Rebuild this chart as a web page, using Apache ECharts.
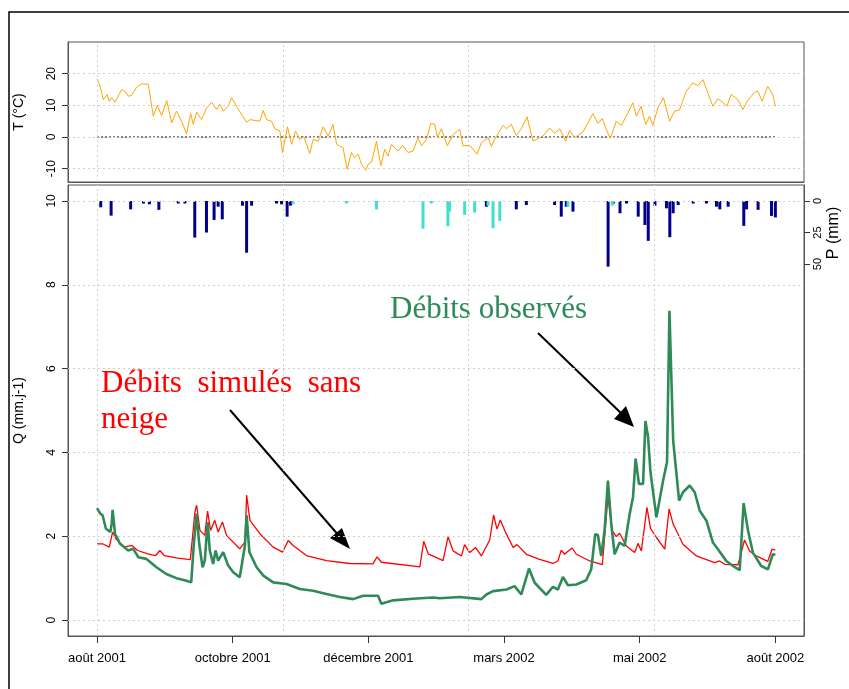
<!DOCTYPE html>
<html><head><meta charset="utf-8">
<script src="https://cdn.jsdelivr.net/npm/echarts@6/dist/echarts.min.js"></script>
<style>html,body{margin:0;padding:0;background:#fff}#main{width:849px;height:689px}</style>
</head><body><div id="main"></div>
<script>
// days since 1 Aug 2001
let tickDays = [0, 73, 146, 219, 292, 365];
let tickLabels = ['août 2001', 'octobre 2001', 'décembre 2001', 'mars 2002', 'mai 2002', 'août 2002'];

let temperature = [
  [0,18.3],[0.7,17.6],[2,15.2],[3.4,11.8],[5.5,13.4],[6.6,11.3],[7.9,12.4],[9.7,11],[13.3,15],[15.1,14.4],
  [16.8,12.9],[18.6,13.1],[21.3,15.7],[24,16.8],[27.6,16.6],[30.3,6.6],[32.4,10],[34.8,6.8],[37.5,11.5],[40.2,4.5],
  [42.8,8.2],[45.5,5],[48.2,1],[50.4,7.4],[51.8,4],[53.6,7.9],[56.3,5.5],[59,9.2],[61.7,11],[64.4,8.7],
  [66.1,10.3],[67.9,8.2],[70.6,9.7],[72.4,12.4],[75.1,9.7],[77.8,7.1],[80.5,4.7],[82.3,5.5],[87.6,5],[89.4,8.4],
  [91.2,5.5],[93.9,5],[95.7,2.6],[98.4,1.9],[99.8,-4.9],[102.5,3.2],[104.7,-2.3],[106.8,1.9],[109.1,-0.7],[111.3,0.1],
  [114.5,-5.2],[116.3,-0.7],[119,-1.3],[121.7,3.2],[124.4,0.3],[127,4],[128.9,-2.3],[132.4,-3.4],[134.6,-10.2],[136.9,-4.9],
  [138.7,-6.5],[140.5,-5.4],[142.3,-8.6],[144.6,-10.5],[145.9,-8.6],[147.7,-7.9],[150.4,-1.3],[152.7,-9.1],[154.8,-3.9],[156.6,-6],
  [158.4,-2.3],[162,-4.4],[164.4,-2.6],[167.4,-4.9],[170.1,-4.4],[172.7,-0.2],[174.6,-2.8],[177.3,-0.7],[179.6,4.3],[181.7,4],
  [183.2,-0.2],[185.3,2.6],[188.5,-2.8],[191.6,0.8],[195.2,2.4],[196.9,-2.8],[200.5,-2.6],[204.5,-5.4],[206.8,-1.8],[210.4,-0.2],
  [212.2,-3],[214,-0.7],[218.5,3.7],[220.3,2.6],[222.9,4],[225.6,0.5],[228.3,2.6],[231.4,6.4],[234.6,-1.3],[240,0.3],
  [243.5,2.9],[246.2,1.2],[248.9,2.6],[252.2,-1.3],[254.3,2.1],[257,-0.2],[261.5,1.6],[266.8,7.4],[269.5,4.3],[271.9,5.8],
  [274,2.4],[276.2,-0.4],[279.4,5],[282.1,3.7],[284.8,6.6],[288.3,10.8],[290.2,6.6],[292.8,9.7],[295.2,4],[297.3,6.6],
  [299.1,3.7],[301.8,9.2],[304.8,12.4],[308.1,5],[310.8,8.2],[313.4,8.5],[317,14.4],[320.6,17.1],[323.3,16.2],[326,18.1],
  [331.4,9.7],[334,12],[336.7,11],[338.9,9.7],[341.2,13.4],[344.8,11.8],[347.5,8.7],[350.2,11.6],[353.8,14.1],[355.5,14.5],
  [357.9,11.3],[360.9,16],[363.6,13.4],[365,9.7]
];

let rain = [
  [2,5],[7.6,11.6],[18.1,6.6],[25,2],[28.2,2.6],[33.3,7],[43.7,2],[47.3,2],[52.6,29],[58.9,25],
  [63,15],[65.2,4.5],[67.4,14.5],[78.3,3.7],[80.5,41],[83.2,3.7],[96.6,2],[99.3,2.6],[102.3,12.4],[104.1,3.7],
  [209.5,4.5],[225.6,6.6],[231,3.2],[246.2,3.2],[249.8,12.4],[252.5,4.5],[256.1,8.4],[275,52],[277.8,2],[281.4,9.7],
  [284.9,2],[291.2,12.4],[294.8,19],[296.6,31.6],[300.2,3.7],[306.4,5.8],[308.2,28.7],[310,9.7],[312.7,3.2],[320.8,2],
  [327.9,2],[333.3,4.5],[335.1,6.6],[339.6,4.5],[348,19.7],[349.5,6.6],[355.7,7],[362.9,11.8],[365,13]
];
let snow = [
  [105.5,2.6],[134.2,2],[150.4,6.6],[175.4,22],[179.9,2],[188.8,20],[189.7,8.4],[197.8,11],[203.2,9.2],[210.4,3.7],
  [213.1,21.6],[216.7,15.8],[253.4,4.5],[277.2,3.7]
];

let qObserved = [
  [0,2.67],[1.8,2.54],[3,2.5],[4.8,2.18],[7.2,2.1],[7.9,2.3],[8.4,2.63],[9.7,2.06],[12.4,1.82],[16.8,1.66],
  [19.5,1.7],[22.2,1.5],[26.6,1.46],[32,1.26],[37.3,1.1],[42.7,1.0],[47.2,0.95],[50.7,0.9],[52.1,1.82],[53.6,2.54],
  [55,1.82],[56.8,1.26],[58,1.42],[59.5,2.34],[60.7,1.66],[62.5,1.34],[63.8,1.66],[65.2,1.42],[67.9,1.62],[70.6,1.3],
  [73.3,1.14],[76.8,1.02],[79.6,1.78],[80.5,2.5],[82,1.62],[85.9,1.26],[89.5,1.06],[94.8,0.9],[102,0.86],[109.1,0.74],
  [116.3,0.7],[123.5,0.62],[130.6,0.55],[137.8,0.5],[143.2,0.58],[151.2,0.58],[153,0.39],[159.3,0.47],[170,0.51],[180.8,0.54],
  [184.4,0.52],[195.2,0.55],[206.8,0.5],[209.5,0.61],[213.1,0.69],[220.3,0.73],[224.7,0.81],[228.3,0.61],[232.4,1.23],[235.5,0.89],
  [241.7,0.6],[245.3,0.79],[248,0.73],[250.7,1.03],[253.4,0.83],[257.9,0.85],[263.2,0.95],[265.9,1.21],[268.1,2.05],[269.5,2.03],
  [271.3,1.53],[273.1,2.13],[274.9,3.33],[276.7,2.29],[278.5,1.57],[281.2,1.85],[283.9,1.77],[286.6,2.53],[288.4,2.93],[289.8,3.85],
  [291.6,3.25],[293.8,3.25],[295.1,4.75],[296.5,4.37],[297.8,3.53],[301,2.45],[304.6,3.33],[306.7,3.77],[308,7.38],[310,4.29],
  [313.2,2.85],[315.3,3.05],[318.9,3.21],[321.6,3.05],[324.3,2.61],[327.9,2.37],[331.4,1.85],[334.1,1.69],[338.6,1.41],[342.2,1.29],
  [345.8,1.19],[347.9,2.79],[350.3,2.13],[352.9,1.61],[357.4,1.29],[361,1.21],[363.6,1.57],[365,1.56]
];
let qSimulated = [
  [0,1.82],[3,1.82],[6.6,1.74],[8.4,2.1],[10.2,1.94],[14.6,1.74],[18.8,1.78],[21.9,1.66],[27.3,1.58],[31.6,1.54],
  [33.8,1.66],[36.2,1.54],[43.4,1.48],[50.2,1.44],[52.7,2.58],[53.6,2.74],[55.4,2.14],[58,2.02],[59.5,2.6],[61.1,2.14],
  [63.4,2.38],[65.2,2.1],[67.5,2.34],[69.7,2.02],[76.8,1.7],[79.6,1.86],[80.5,2.98],[82.3,2.38],[87.6,2.06],[94.8,1.74],
  [99.8,1.62],[102.9,1.9],[105.5,1.78],[112.7,1.54],[123.5,1.42],[136,1.35],[148.5,1.34],[150.7,1.51],[153,1.38],[173.7,1.27],
  [175.8,1.88],[178.2,1.58],[186.2,1.42],[188.9,1.99],[191.6,1.65],[196.1,1.53],[197.8,1.8],[200.5,1.61],[203.7,1.73],[206.8,1.53],
  [211.3,1.91],[213.4,2.51],[215.2,2.17],[217,2.39],[220.3,2.05],[223.9,1.73],[226,1.8],[231,1.57],[238.2,1.45],[245.3,1.35],
  [248,1.41],[249.8,1.67],[251.6,1.57],[253.4,1.64],[255.7,1.72],[257.9,1.57],[265.1,1.41],[271.9,1.32],[274.9,2.93],[277.3,2.13],
  [279.4,1.99],[281.2,2.07],[284.8,1.77],[289.3,1.61],[291.1,1.83],[292.9,1.65],[295.9,2.69],[297.8,2.19],[301,1.97],[305.5,1.69],
  [307.8,2.65],[310,2.29],[315.3,1.81],[322.5,1.53],[332.3,1.37],[335,1.41],[337.7,1.33],[344.9,1.32],[348.4,1.91],[351.1,1.65],
  [354.7,1.53],[360.9,1.4],[363.2,1.69],[365,1.67]
];

let tTicks = [-10, 0, 10, 20];
let qTicks = [0, 2, 4, 6, 8, 10];
let pTicks = [0, 25, 50];
let gridDays = [0, 100, 200, 300];

let chart = echarts.init(document.getElementById('main'));
let font = 'Liberation Sans, Arial, sans-serif';
let dotted = {color: '#cfcfcf', type: [2, 3], width: 1};

function vGrid() {
  return {silent: true, symbol: 'none', label: {show: false}, lineStyle: dotted,
    data: gridDays.map(d => ({xAxis: d}))};
}
function hGrid(vals) {
  return {silent: true, symbol: 'none', label: {show: false}, lineStyle: dotted,
    data: vals.map(v => ({yAxis: v}))};
}
let axLine = {show: true, onZero: false, lineStyle: {color: '#555', width: 1}};
let tick = {show: true, length: 6, lineStyle: {color: '#333'}};
let xBase = {type: 'value', min: -15.6, max: 380.4, splitLine: {show: false}, axisLine: axLine};

let option = {
  animation: false,
  backgroundColor: '#fff',
  grid: [
    {left: 68, right: 45, top: 42, height: 140, show: true, borderColor: '#555', borderWidth: 1},
    {left: 68, right: 45, top: 185, height: 451, show: true, borderColor: '#555', borderWidth: 1}
  ],
  xAxis: [
    Object.assign({gridIndex: 0, axisTick: {show: false}, axisLabel: {show: false}}, xBase),
    Object.assign({gridIndex: 1, position: 'bottom',
      axisTick: Object.assign({customValues: tickDays}, tick, {length: 7}),
      axisLabel: {customValues: tickDays, formatter: v => tickLabels[tickDays.indexOf(v)] || '',
        color: '#000', fontSize: 13, fontFamily: font, margin: 16}}, xBase)
  ],
  yAxis: [
    {gridIndex: 0, type: 'value', position: 'left', min: -14.2, max: 30, splitLine: {show: false},
      axisLine: axLine,
      axisTick: Object.assign({customValues: tTicks}, tick),
      axisLabel: {customValues: tTicks, rotate: 90, color: '#000', fontSize: 12, fontFamily: font, margin: 10},
      name: 'T (°C)', nameLocation: 'middle', nameGap: 42, nameRotate: 90,
      nameTextStyle: {fontSize: 14, fontFamily: font, color: '#000'}},
    {gridIndex: 1, type: 'value', position: 'left', min: -0.38, max: 10.38, splitLine: {show: false},
      axisLine: axLine,
      axisTick: Object.assign({customValues: qTicks}, tick),
      axisLabel: {customValues: qTicks, rotate: 90, color: '#000', fontSize: 12, fontFamily: font, margin: 10},
      name: 'Q (mm.j-1)', nameLocation: 'middle', nameGap: 42, nameRotate: 90,
      nameTextStyle: {fontSize: 14, fontFamily: font, color: '#000'}},
    {gridIndex: 1, type: 'value', position: 'right', inverse: true, min: -12.7, max: 345,
      splitLine: {show: false}, axisLine: axLine,
      axisTick: Object.assign({customValues: pTicks}, tick),
      axisLabel: {customValues: pTicks, rotate: 90, color: '#000', fontSize: 11, fontFamily: font, margin: 8}}
  ],
  series: [
    {type: 'line', xAxisIndex: 0, yAxisIndex: 0, data: temperature, showSymbol: false,
      lineStyle: {color: '#ffa500', width: 1}, markLine: vGrid(), z: 3},
    {type: 'line', xAxisIndex: 0, yAxisIndex: 0, data: [[0, 0], [365, 0]], showSymbol: false,
      lineStyle: {color: '#000', width: 1, type: [2, 2]}, markLine: hGrid(tTicks), z: 2},
    {type: 'bar', xAxisIndex: 1, yAxisIndex: 2, data: rain, barWidth: 3, barGap: '-100%',
      itemStyle: {color: '#00008b'}, markLine: hGrid([0])},
    {type: 'bar', xAxisIndex: 1, yAxisIndex: 2, data: snow, barWidth: 3, barGap: '-100%',
      itemStyle: {color: '#40e0d0'}},
    {type: 'line', xAxisIndex: 1, yAxisIndex: 1, data: qSimulated, showSymbol: false,
      lineStyle: {color: '#ff0000', width: 1.3}, markLine: vGrid(), z: 4},
    {type: 'line', xAxisIndex: 1, yAxisIndex: 1, data: qObserved, showSymbol: false,
      lineStyle: {color: '#2e8b57', width: 2.6}, markLine: hGrid(qTicks), z: 5}
  ],
  graphic: [
    {type: 'polyline', shape: {points: [[9, 689], [9, 12], [849, 12]]}, style: {stroke: '#000', lineWidth: 1.5, fill: null}},
    {type: 'text', x: 834, y: 233, rotation: Math.PI / 2, style: {text: 'P (mm)', fill: '#000',
      font: '16px "Liberation Sans", Arial, sans-serif', align: 'center', verticalAlign: 'middle'}},
    {type: 'text', left: 101, top: 366, style: {text: 'Débits  simulés  sans\nneige', fill: '#ff0000',
      font: '31px "Liberation Serif", "Times New Roman", serif', lineHeight: 36}},
    {type: 'text', left: 390, top: 294, style: {text: 'Débits observés', fill: '#2e8b57',
      font: '31px "Liberation Serif", "Times New Roman", serif'}},
    {type: 'line', shape: {x1: 230, y1: 410, x2: 340, y2: 537}, style: {stroke: '#000', lineWidth: 2}},
    {type: 'polygon', shape: {points: [[350, 549], [330, 538], [342, 528]]}, style: {fill: '#000'}},
    {type: 'line', shape: {x1: 538, y1: 333, x2: 624, y2: 416}, style: {stroke: '#000', lineWidth: 2}},
    {type: 'polygon', shape: {points: [[634, 427], [614, 419], [626, 406]]}, style: {fill: '#000'}}
  ]
};
chart.setOption(option);
</script></body></html>
